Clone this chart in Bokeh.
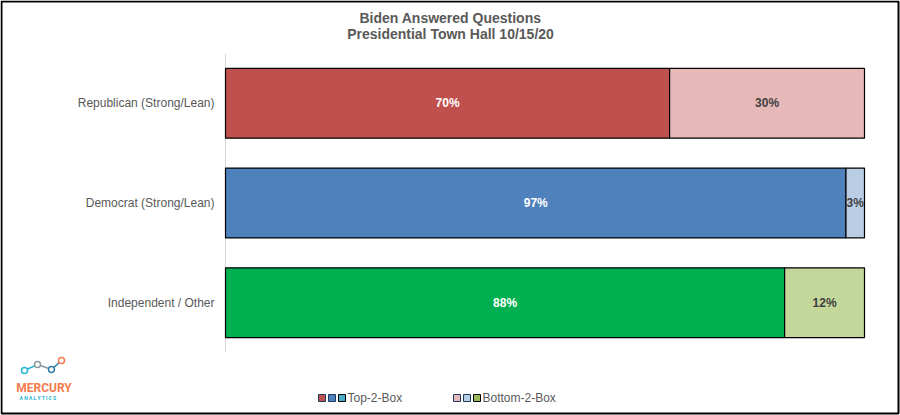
from bokeh.plotting import figure
from bokeh.models import ColumnDataSource, Label, BoxAnnotation, Range1d
from bokeh.core.properties import value
from bokeh.embed import file_html
from bokeh.resources import INLINE

# ---- data ----
categories = ["Republican (Strong/Lean)", "Democrat (Strong/Lean)", "Independent / Other"]
top2 = [69.5, 97.1, 87.5]
bottom2 = [30.5, 2.9, 12.5]
top_labels = ["70%", "97%", "88%"]
bottom_labels = ["30%", "3%", "12%"]
top_colors = ["#C0504D", "#4F81BD", "#00B050"]
bottom_colors = ["#E6B9B8", "#B9CDE5", "#C4D79B"]
legend_top_colors = ["#C0504D", "#4F81BD", "#4BACC6"]
legend_bottom_colors = ["#E6B9B8", "#B9CDE5", "#9BBB59"]
series_names = ["Top-2-Box", "Bottom-2-Box"]
title_lines = ["Biden Answered Questions", "Presidential Town Hall 10/15/20"]

FONT = "Liberation Sans"
GRAY = "#595959"

# ---- layout (pixels on the 900x415 canvas) ----
W, H = 900, 415
PX0, PX100 = 225, 864          # pixel x of 0% and 100%
PY_TOP, PY_BOT = 53, 352       # pixel extent of the category band
n = len(categories)
band = (PY_BOT - PY_TOP) / n
ypos = [n - 1 - i for i in range(n)]   # first category on top

def dx(px): return (px - PX0) / (PX100 - PX0) * 100
def dy(py): return (PY_BOT - band / 2 - py) / band

src = ColumnDataSource(dict(
    y=ypos,
    cat=categories,
    top=top2,
    end=[t + b for t, b in zip(top2, bottom2)],
    top_mid=[t / 2 for t in top2],
    bot_mid=[t + b / 2 for t, b in zip(top2, bottom2)],
    top_lbl=top_labels,
    bot_lbl=bottom_labels,
    tc=top_colors,
    bc=bottom_colors,
    lx=[dx(214)] * n,
))

p = figure(width=W, height=H, output_backend="svg", toolbar_location=None,
           x_range=Range1d(dx(0), dx(W)), y_range=Range1d(dy(H), dy(0)),
           x_axis_location=None, y_axis_location=None,
           min_border=0, min_border_left=0, min_border_right=0, min_border_top=0, min_border_bottom=0)
p.outline_line_color = None
p.xgrid.visible = False
p.ygrid.visible = False
p.background_fill_color = "white"
p.border_fill_color = "white"

# category axis line
p.segment(x0=[0], y0=[dy(PY_TOP)], x1=[0], y1=[dy(PY_BOT)], line_color="#D9D9D9", line_width=1)

# bars
p.hbar(y="y", left=0, right="top", height=0.7, fill_color="tc", line_color="black", line_width=1.2, source=src)
p.hbar(y="y", left="top", right="end", height=0.7, fill_color="bc", line_color="black", line_width=1.2, source=src)

# category labels
p.text(x="lx", y="y", text="cat", source=src, text_align="right", text_baseline="middle",
       text_font=value(FONT), text_font_size="12px", text_color=GRAY)

# value labels
p.text(x="top_mid", y="y", text="top_lbl", source=src, text_align="center", text_baseline="middle",
       text_color="white", text_font=value(FONT), text_font_size="12px", text_font_style="bold")
p.text(x="bot_mid", y="y", text="bot_lbl", source=src, text_align="center", text_baseline="middle",
       text_color="#404040", text_font=value(FONT), text_font_size="12px", text_font_style="bold")

def label(px, py, text, size, color, bold=False, align="center", font=FONT):
    p.add_layout(Label(x=dx(px), y=dy(py), text=text, text_align=align, text_baseline="middle",
                       text_font=font, text_font_size=size, text_color=color,
                       text_font_style="bold" if bold else "normal"))

def box(x0, y0, x1, y1, fill, line="#404040", lw=1, radius=0, fill_alpha=1):
    p.add_layout(BoxAnnotation(left=dx(x0), right=dx(x1), top=dy(y0), bottom=dy(y1),
                               fill_color=fill, fill_alpha=fill_alpha,
                               line_color=line, line_width=lw, line_alpha=1, border_radius=radius))

# title
for i, t in enumerate(title_lines):
    label(450, 17 + 16 * i, t, "14px", GRAY, bold=True)

# legend
for start, cols, name in [(318, legend_top_colors, series_names[0]), (453, legend_bottom_colors, series_names[1])]:
    for k, c in enumerate(cols):
        box(start + 10 * k, 394, start + 10 * k + 7, 401, c, line="#1F3A5F" if k < 2 else "black")
    label(start + 29, 397.5, name, "12px", GRAY, align="left")

# logo
pts = [(24, 370, "#29B6D1"), (37, 364, "#8E9AA0"), (51, 369, "#2E7EA8"), (61, 360, "#F47C4F")]
for (x0, y0, c0), (x1, y1, c1) in zip(pts[:-1], pts[1:]):
    p.segment(x0=[dx(x0)], y0=[dy(y0)], x1=[dx(x1)], y1=[dy(y1)], line_color=c0, line_width=1.5)
for x, y, c in pts:
    box(x - 3, y - 3, x + 3, y + 3, "white", line=c, lw=1.5, radius=3)
label(43.5, 387, "MERCURY", "12px", "#F47C4F", bold=True, font="Roboto")
label(37.5, 397, "A N A L Y T I C S", "5px", "#29B6D1", bold=True, font="Roboto")

# outer border
box(1, 1, 898, 413, None, line="black", lw=2, fill_alpha=0)

open("out.html", "w").write(file_html(p, INLINE))
